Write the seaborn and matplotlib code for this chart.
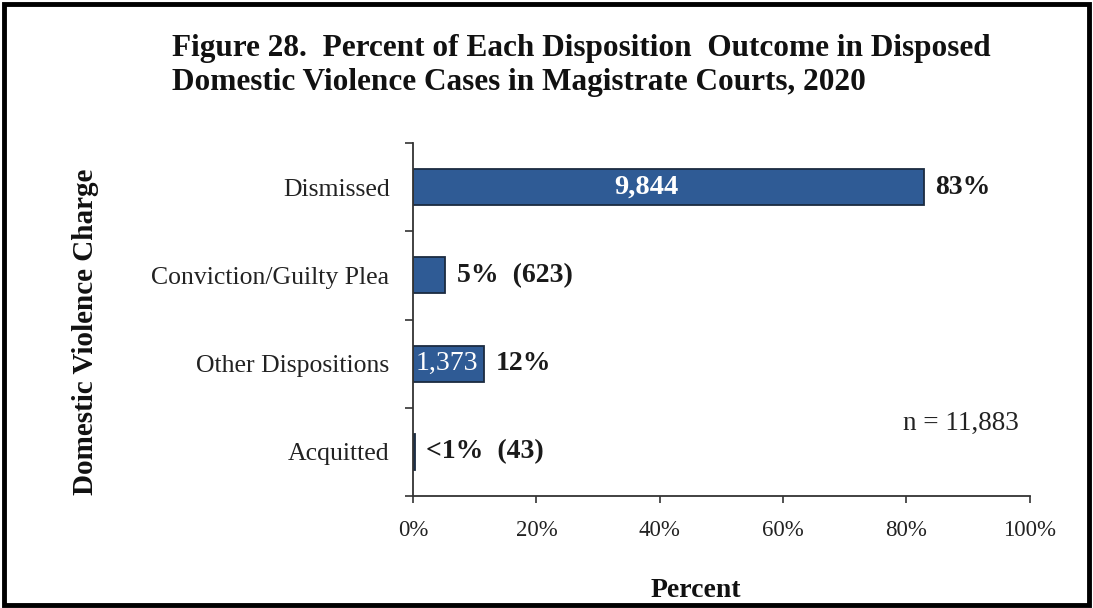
import matplotlib
matplotlib.use("Agg")
import matplotlib.pyplot as plt
import matplotlib.patches as mpatches
import seaborn as sns
import pandas as pd
import numpy as np

categories = ["Dismissed", "Conviction/Guilty Plea", "Other Dispositions", "Acquitted"]
counts = [9844, 623, 1373, 43]
total_n = 11883
pct_labels = ["83%", "5%  (623)", "12%", "<1%  (43)"]
inside_labels = ["9,844", "", "1,373", ""]
x_ticks = [0, 20, 40, 60, 80, 100]
x_tick_labels = ["0%", "20%", "40%", "60%", "80%", "100%"]

df = pd.DataFrame({
    "category": categories,
    "percent": [c / total_n * 100 for c in counts],
})

sns.set_theme(style="white")
plt.rcParams['font.family'] = ['Liberation Serif', 'DejaVu Serif']

fig = plt.figure(figsize=(10.93, 6.08), dpi=100)
ax = fig.add_axes([0.378, 0.184, 0.564, 0.581])

sns.barplot(data=df, y="category", x="percent", orient="h", order=categories,
            color="#2F5B95", edgecolor="#1B2B40", linewidth=1.3, width=0.41,
            saturation=1, ax=ax)

ax.set_xlim(0, 100)
ax.set_ylim(3.5, -0.5)
ax.set_xticks(x_ticks)
ax.set_xticklabels(x_tick_labels, fontsize=16.5, color="#222222")
ax.set_yticks(range(len(categories)))
ax.set_yticklabels(categories, fontsize=18.5, color="#222222")
ax.set_yticks(np.arange(-0.5, len(categories), 1.0), minor=True)
ax.tick_params(axis="y", which="major", left=False, length=0, pad=17)
ax.tick_params(axis="y", which="minor", left=True, length=6, width=1.2, color="#333333", direction="out")
ax.tick_params(axis="x", which="major", bottom=True, length=5, width=1.2, color="#333333", direction="out", pad=12)
ax.set_xlabel("")
ax.set_ylabel("")
for s in ["top", "right"]:
    ax.spines[s].set_visible(False)
for s in ["left", "bottom"]:
    ax.spines[s].set_color("#333333")
    ax.spines[s].set_linewidth(1.3)

pcts = df["percent"].tolist()
inside_x = [37.8, None, 5.4, None]
for i, (p, lab, ins) in enumerate(zip(pcts, pct_labels, inside_labels)):
    ax.text(p + 1.8, i, lab, va="center", ha="left", fontsize=20,
            fontweight="bold", color="#1a1a1a")
    if ins:
        ax.text(inside_x[i], i, ins, va="center", ha="center", fontsize=20.5 if i == 0 else 20,
                fontweight="bold" if i == 0 else "normal", color="white")

ax.text(98.3, 2.68, "n = 11,883", ha="right", va="center", fontsize=19.5, color="#222222")

fig.text(0.157, 0.921, "Figure 28.  Percent of Each Disposition  Outcome in Disposed",
         ha="left", va="center", fontsize=22.5, fontweight="bold", color="#111111")
fig.text(0.157, 0.864, "Domestic Violence Cases in Magistrate Courts, 2020",
         ha="left", va="center", fontsize=22.5, fontweight="bold", color="#111111")
fig.text(0.078, 0.454, "Domestic Violence Charge", rotation=90, ha="center", va="center",
         fontsize=21, fontweight="bold", color="#111111")
fig.text(0.637, 0.028, "Percent", ha="center", va="center", fontsize=20,
         fontweight="bold", color="#111111")

fig.patches.append(mpatches.Rectangle((0.004, 0.005), 0.992, 0.988, transform=fig.transFigure,
                                      fill=False, edgecolor="black", linewidth=3.5))

fig.savefig("out.png", dpi=100, facecolor="white")
